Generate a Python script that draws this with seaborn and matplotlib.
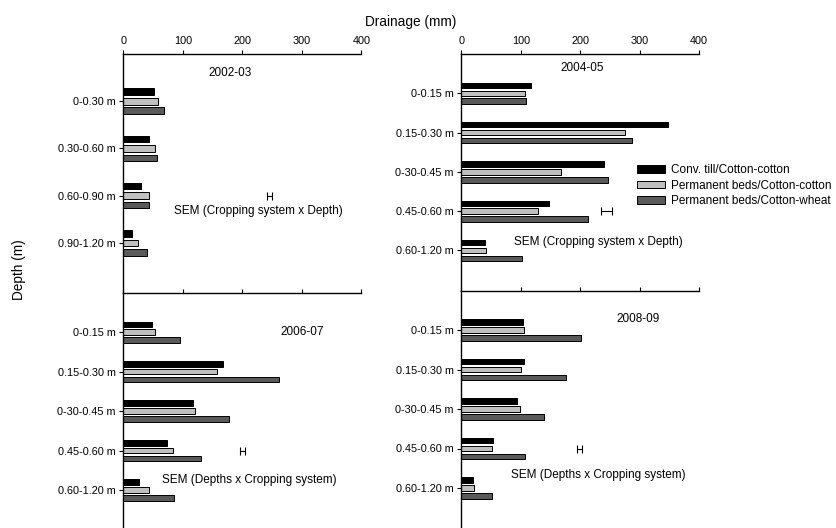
import pandas as pd
import matplotlib
matplotlib.use("Agg")
import matplotlib.pyplot as plt
import seaborn as sns

# dados (drenagem em mm)
sistemas = ["Conv. till/Cotton-cotton", "Permanent beds/Cotton-cotton", "Permanent beds/Cotton-wheat"]
cores = ["black", "#c0c0c0", "#5a5a5a"]

prof_0203 = ["0-0.30 m", "0.30-0.60 m", "0.60-0.90 m", "0.90-1.20 m"]
prof_depois = ["0-0.15 m", "0.15-0.30 m", "0-30-0.45 m", "0.45-0.60 m", "0.60-1.20 m"]

conv_0203 = [51, 43, 29, 15]
pbcc_0203 = [58, 54, 44, 25]
pbcw_0203 = [68, 57, 44, 40]

conv_0405 = [117, 347, 240, 147, 40]
pbcc_0405 = [107, 276, 168, 129, 41]
pbcw_0405 = [109, 287, 247, 213, 102]

conv_0607 = [48, 168, 117, 73, 26]
pbcc_0607 = [54, 157, 120, 84, 43]
pbcw_0607 = [96, 262, 177, 131, 86]

conv_0809 = [104, 105, 94, 53, 20]
pbcc_0809 = [105, 101, 98, 51, 22]
pbcw_0809 = [202, 177, 139, 107, 51]

# SEM: centro, meia largura e linha (indice da profundidade)
sem_centro = [246, 244, 200, 199]
sem_meia = [4, 9, 4, 4]
sem_linha = [2, 3, 3, 3]


def monta_df(prof, conv, pbcc, pbcw):
    linhas = []
    for valores, sistema in zip([conv, pbcc, pbcw], sistemas):
        for p, v in zip(prof, valores):
            linhas.append({"depth": p, "system": sistema, "drainage": v})
    return pd.DataFrame(linhas)


sns.set_theme(style="ticks")
plt.rcParams["font.family"] = ["Liberation Sans", "DejaVu Sans"]
plt.rcParams["text.color"] = "black"
plt.rcParams["xtick.color"] = "black"
plt.rcParams["ytick.color"] = "black"
plt.rcParams["axes.labelcolor"] = "black"

fig = plt.figure(figsize=(8.36, 5.28), dpi=100)
W, H = 836, 528

def caixa(x0, y0, x1, y1):  # em pixels, y de cima pra baixo
    return [x0 / W, 1 - y1 / H, (x1 - x0) / W, (y1 - y0) / H]

paineis = [
    (caixa(123.3, 54, 361.3, 292.7), prof_0203, conv_0203, pbcc_0203, pbcw_0203, 4.057, True),
    (caixa(461.3, 54, 699, 290.5), prof_depois, conv_0405, pbcc_0405, pbcw_0405, 5.018, True),
    (caixa(123.3, 292.7, 361.3, 530), prof_depois, conv_0607, pbcc_0607, pbcw_0607, 5.01, False),
    (caixa(461.3, 290.5, 699, 527.5), prof_depois, conv_0809, pbcc_0809, pbcw_0809, 5.0, False),
]

eixos = []
for i, (rect, prof, c1, c2, c3, ybaixo, rotulos) in enumerate(paineis):
    ax = fig.add_axes(rect)
    df = monta_df(prof, c1, c2, c3)
    sns.barplot(data=df, x="drainage", y="depth", hue="system", hue_order=sistemas,
                palette=cores, orient="h", width=0.6, gap=0.3, edgecolor="black",
                linewidth=0.7, errorbar=None, legend=(i == 1), ax=ax)
    ax.set_xlim(0, 400)
    ax.set_ylim(ybaixo, -1)
    ax.set_xticks([0, 100, 200, 300, 400])
    ax.xaxis.tick_top()
    ax.tick_params(axis="x", top=True, bottom=False, labeltop=rotulos, labelbottom=False,
                   direction="out", length=3, width=0.8, pad=2.5, labelsize=7.8)
    ax.tick_params(axis="y", direction="out", length=3, width=0.8, pad=2.5, labelsize=7.8)
    ax.set_xlabel("")
    ax.set_ylabel("")
    for lado in ["right", "bottom"]:
        ax.spines[lado].set_visible(False)
    for lado in ["top", "left"]:
        ax.spines[lado].set_linewidth(1.0)
        ax.spines[lado].set_color("black")
    ax.errorbar(sem_centro[i], sem_linha[i], xerr=sem_meia[i], fmt="none",
                ecolor="black", elinewidth=0.8, capsize=2.8, capthick=0.8)
    eixos.append(ax)

ax_tl, ax_tr, ax_bl, ax_br = eixos

ax_tl.text(180, -0.6, "2002-03", ha="center", va="center", fontsize=8.5)
ax_tl.text(227, 2.33, "SEM (Cropping system x Depth)", ha="center", va="center", fontsize=8.5)
ax_tr.text(203, -0.64, "2004-05", ha="center", va="center", fontsize=8.5)
ax_tr.text(230, 3.79, "SEM (Cropping system x Depth)", ha="center", va="center", fontsize=8.5)
ax_bl.text(301, 0.0, "2006-07", ha="center", va="center", fontsize=8.5)
ax_bl.text(211, 3.75, "SEM (Depths x Cropping system)", ha="center", va="center", fontsize=8.5)
ax_br.text(298, -0.28, "2008-09", ha="center", va="center", fontsize=8.5)
ax_br.text(231, 3.67, "SEM (Depths x Cropping system)", ha="center", va="center", fontsize=8.5)

sns.move_legend(ax_tr, "upper left", bbox_to_anchor=(0.739, 0.534), title=None,
                frameon=False, fontsize=8.5, handlelength=2.4, handleheight=0.62,
                handletextpad=0.5, labelspacing=0.3, borderpad=0, borderaxespad=0)

fig.text(410.5 / W, 1 - 21.7 / H, "Drainage (mm)", ha="center", va="center", fontsize=9.8)
fig.text(19 / W, 1 - 270 / H, "Depth (m)", ha="center", va="center", rotation=90, fontsize=9.8)

fig.savefig("out.png", dpi=100)
